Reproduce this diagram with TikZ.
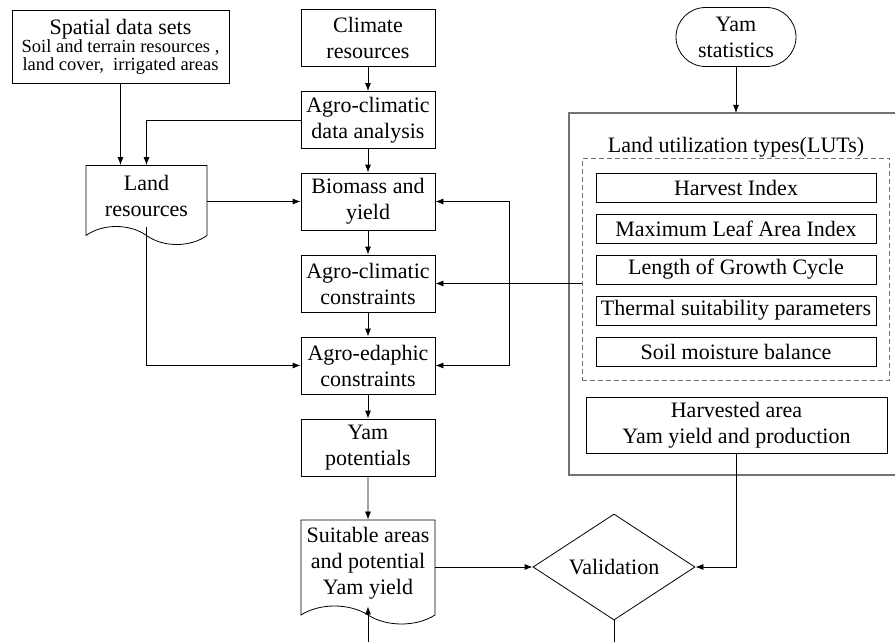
\documentclass[tikz,border=0pt]{standalone}
\usepackage{fontspec}
\setmainfont{Liberation Serif}
\usetikzlibrary{shapes.geometric,shapes.symbols,shapes.misc,arrows.meta,fit}

\tikzset{
  box/.style={draw, rectangle, minimum width=134pt, minimum height=57pt, inner sep=2pt, align=center},
  docbox/.style={draw, tape, tape bend top=none, tape bend bottom=out and in, tape bend height=18pt, minimum width=134pt, inner sep=2pt, align=center},
  lutbox/.style={draw, rectangle, minimum width=280pt, minimum height=29pt, inner sep=1pt},
  arr/.style={-{Latex[length=8pt,width=6pt]}},
  grayline/.style={draw=black!55, line width=1.2pt},
}

\begin{document}
\begin{tikzpicture}[x=1pt, y=1pt, line width=0.8pt, font=\fontsize{22}{26}\selectfont]
    \useasboundingbox (0,0) rectangle (895,-642);

    % main column
    \node [box] (clim) at (368,-38) {Climate\\resources};
    \node [box] (acda) at (368,-120) {Agro-climatic\\data analysis};
    \node [box] (bio) at (368,-201.5) {Biomass and\\yield};
    \node [box] (acc) at (368,-283.5) {Agro-climatic\\constraints};
    \node [box] (aec) at (368,-365.5) {Agro-edaphic\\constraints};
    \node [box] (yp) at (368,-447.5) {Yam\\potentials};
    \node [docbox, minimum height=104pt] (suit) at (368,-563) {Suitable areas\\and potential\\Yam yield};

    % left side
    \node [draw, minimum width=217pt, minimum height=73pt, inner sep=1pt, align=center, font=\fontsize{18.5}{18}\selectfont] (spat) at (120.5,-46.5)
        {{\fontsize{22}{18}\selectfont Spatial data sets}\\Soil and terrain resources ,\\land cover,\ \ irrigated areas};
    \node [docbox, minimum width=121pt, minimum height=79pt] (land) at (146.5,-196) {Land\\resources};

    % right side
    \node [draw, rounded rectangle, minimum width=122pt, minimum height=59pt, inner sep=1pt, align=center] (ystat) at (736,-37) {Yam\\statistics};
    \coordinate (otop) at (736,-113);
    \draw [grayline] (895,-113) -- (569,-113) -- (569,-475) -- (895,-475);
    \node (luttitle) at (736,-147) {Land utilization types(LUTs)};
    \foreach \i/\t in {0/Harvest Index,1/Maximum Leaf Area Index,2/Length of Growth Cycle,3/Thermal suitability parameters,4/Soil moisture balance}
    \node [lutbox] (lut\i) at (736,-187.5-41*\i) {\t};
    \node [draw=black!55, line width=1pt, dash pattern=on 5pt off 3pt, fit=(lut0)(lut4), inner xsep=13.5pt, inner ysep=14pt] (luts) {};
    \node [draw, minimum width=301pt, minimum height=56pt, inner sep=1pt, align=center] (harv) at (736.5,-425) {Harvested area\\Yam yield and production};

    \node [draw, diamond, minimum width=162pt, minimum height=100pt, inner sep=0pt] (valid) at (614,-567) {Validation};

    \coordinate (loopx) at (509,0);
    \coordinate (vbot) at (614,-645);
    \coordinate (sbot) at (368,-645);

    % connectors
    \draw [arr] (clim) -- (acda);
    \draw [arr] (acda) -- (bio);
    \draw [arr] (bio) -- (acc);
    \draw [arr] (acc) -- (aec);
    \draw [arr] (aec) -- (yp);
    \draw [arr] (yp) -- (suit);
    \draw [arr] (spat) -- (spat |- land.north);
    \draw [arr] (acda.west) -| (land.north);
    \draw [arr] (land.east |- bio.west) -- (bio.west);
    \draw [arr] (land.south) |- (aec.west);
    \draw [{Latex[length=8pt,width=6pt]}-{Latex[length=8pt,width=6pt]}] (bio.east) -- (bio.east -| loopx) -- (aec.east -| loopx) -- (aec.east);
    \draw [arr] (acc.east -| luts.west) -- (acc.east);
    \draw [arr] (ystat) -- (otop);
    \draw [arr] (suit.east |- valid.west) -- (valid.west);
    \draw [arr] (harv.south) |- (valid.east);
    \draw (valid.south) -- (vbot);
    \draw [arr] (sbot) -- (suit.south);
  \end{tikzpicture}
\end{document}
